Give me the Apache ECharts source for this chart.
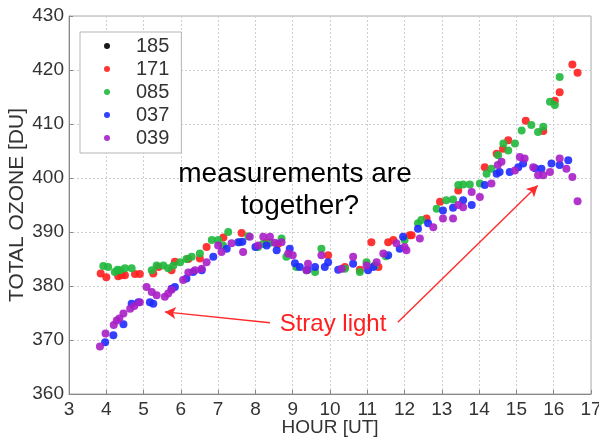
<!DOCTYPE html>
<html>
<head>
<meta charset="utf-8">
<script src="https://cdn.jsdelivr.net/npm/echarts@6/dist/echarts.min.js"></script>
<style>html,body{margin:0;padding:0;background:#fff}#c{width:599px;height:438px}</style>
</head>
<body>
<div id="c"></div>
<script>
const seriesNames = ['185', '171', '085', '037', '039'];
const s185 = [];
const s171 = [[3.85,382.3],[4.0,381.6],[4.32,381.8],[4.41,382.0],[4.5,382.0],[4.77,382.2],[4.9,382.2],[5.26,382.3],[5.4,383.5],[5.75,382.9],[5.84,384.5],[6.2,385],[6.51,385.1],[6.69,387.2],[7.14,389.0],[7.63,389.8],[8.3,388],[8.6,387.8],[9.95,385.7],[10.4,383.5],[10.8,383.0],[11.11,388.1],[11.3,383.5],[11.56,388.1],[11.7,388.5],[12.14,389.4],[12.19,389.4],[12.59,392.5],[12.95,395.6],[13.44,397.7],[14.15,402.0],[14.47,404.5],[14.64,405.4],[14.78,407.0],[15.25,410.6],[15.72,408.7],[16.03,414.3],[16.16,415.9],[16.5,421.0],[16.64,419.5]];
const s085 = [[3.92,383.7],[4.05,383.5],[4.23,382.6],[4.3,383.0],[4.37,382.9],[4.5,383.3],[4.68,383.3],[5.22,382.9],[5.35,383.8],[5.53,383.8],[5.66,383.3],[5.8,383.8],[5.98,384.4],[6.15,385.0],[6.29,385.4],[6.51,386.0],[6.83,388.5],[7.0,388.5],[7.13,387.5],[7.27,390.0],[7.58,388.1],[7.81,389.2],[8.07,387.2],[8.2,387.8],[8.4,388.0],[8.7,388.8],[8.83,385.4],[9.1,383.5],[9.37,382.9],[9.6,382.6],[9.77,386.9],[10.4,383.2],[10.8,382.6],[10.98,384.4],[11.2,383.8],[11.5,385.5],[12.0,388.5],[12.36,391.6],[12.45,392.2],[12.86,394.3],[13.12,395.9],[13.3,396.0],[13.44,398.7],[13.57,398.8],[13.75,398.8],[14.02,399.0],[14.2,400.8],[14.33,401.7],[14.51,404.2],[14.65,406.4],[14.78,405.1],[14.96,406.4],[15.14,408.8],[15.4,409.8],[15.58,408.5],[15.72,409.5],[15.9,414.1],[16.03,413.5],[16.16,418.7]];
const s037 = [[3.97,369.6],[4.19,370.9],[4.46,372.9],[4.68,376.7],[4.86,377.0],[5.17,377.0],[5.26,376.7],[5.75,379.5],[5.84,379.8],[6.15,381.4],[6.33,382.6],[6.56,382.9],[6.87,385.4],[7.23,386.9],[7.54,388.1],[7.65,388.2],[8.0,387.2],[8.3,387.5],[8.57,386.6],[8.92,386.9],[9.06,384.2],[9.19,383.5],[9.4,383.0],[9.6,383.5],[9.86,383.5],[9.95,384.4],[10.22,383.0],[10.62,384.1],[11.02,382.9],[11.16,383.5],[11.56,385.7],[11.87,386.9],[11.96,389.1],[12.36,390.6],[12.63,391.6],[13.03,394.0],[13.3,394.5],[13.57,395.9],[13.8,395.0],[14.15,398.7],[14.47,400.8],[14.55,401.1],[14.82,401.1],[15.05,402.0],[15.18,402.7],[15.5,401.8],[15.67,401.7],[15.94,402.7],[16.16,402.4],[16.39,403.3]];
const s039 = [[3.83,368.8],[3.98,371.2],[4.2,372.8],[4.28,373.6],[4.35,374],[4.46,374.9],[4.64,375.8],[4.75,376.3],[4.9,377.0],[5.08,379.8],[5.22,378.9],[5.35,378.3],[5.57,378.0],[5.66,378.6],[5.75,379.3],[6.06,381.1],[6.2,382.5],[6.38,382.9],[6.56,383.2],[6.69,384.4],[7.0,387.5],[7.09,386.3],[7.36,387.9],[7.67,386.3],[7.85,389.1],[8.07,387.5],[8.21,389.1],[8.39,389.1],[8.52,388.0],[8.7,388.1],[8.88,386.0],[9.0,385.7],[9.37,382.9],[9.41,384.1],[9.77,385.7],[10.31,383.2],[10.62,385.4],[10.98,383.8],[11.25,384.4],[11.43,386.0],[11.78,387.9],[12.0,387.2],[12.05,386.6],[12.41,388.8],[12.77,390.9],[13.03,392.5],[13.3,392.5],[13.44,395.0],[13.57,394.6],[13.8,397.4],[14.02,396.5],[14.33,399.0],[14.5,402.4],[14.6,403.0],[14.96,401.4],[15.09,403.9],[15.22,403.6],[15.45,402.0],[15.58,400.5],[15.72,400.5],[15.9,401.1],[16.16,403.6],[16.34,401.7],[16.5,400.2],[16.64,395.7]];
const xTicks = {min: 3, max: 17, step: 1};
const yTicks = {min: 360, max: 430, step: 10};
const arrowLeft = [[8.39,373.2],[5.57,375.2]];
const arrowRight = [[11.82,373.3],[15.57,398.6]];

const colors = ['#000000', '#ff1f1f', '#1fb83c', '#1f2bff', '#a81fc6'];
const dataList = [s185, s171, s085, s037, s039];
const font = 'Liberation Sans, Arial, sans-serif';

const chart = echarts.init(document.getElementById('c'), null, {renderer: 'canvas'});
const series = seriesNames.map((n, i) => ({
  name: n, type: 'scatter', data: dataList[i], symbol: 'circle', symbolSize: 8,
  itemStyle: {color: colors[i], opacity: 0.9}, z: 3 + i
}));
series.push({
  name: 'annot', type: 'line', data: [], silent: true,
  markLine: {
    silent: true, symbol: ['none', 'arrow'], symbolSize: [9, 11],
    label: {show: false},
    lineStyle: {color: '#ff2a2a', width: 1.4, type: 'solid'},
    data: [
      [{coord: arrowLeft[0]}, {coord: arrowLeft[1]}],
      [{coord: arrowRight[0]}, {coord: arrowRight[1]}]
    ]
  }
});
chart.setOption({
  animation: false,
  backgroundColor: '#fff',
  grid: {left: 69, top: 16, right: 8, bottom: 44, show: true, borderColor: '#aaa', borderWidth: 1,
         containLabel: false, outerBoundsMode: 'none'},
  legend: {
    data: seriesNames, orient: 'vertical', left: 80, top: 32,
    icon: 'circle', itemWidth: 6, itemHeight: 6, itemGap: 3,
    backgroundColor: '#fff', borderColor: '#b5b5b5', borderWidth: 1,
    padding: [4, 12, 5, 24],
    textStyle: {fontFamily: font, fontSize: 20, color: '#333', padding: [0, 0, 0, 21]}
  },
  xAxis: {
    type: 'value', min: xTicks.min, max: xTicks.max, interval: xTicks.step,
    name: 'HOUR [UT]', nameLocation: 'middle', nameGap: 24, nameMoveOverlap: false,
    nameTextStyle: {fontFamily: font, fontSize: 19, color: '#333'},
    axisLine: {show: true, lineStyle: {color: '#888'}},
    axisTick: {show: true, inside: true, length: 4, lineStyle: {color: '#888'}},
    axisLabel: {fontFamily: font, fontSize: 19, color: '#333', margin: 6, showMinLabel: true, showMaxLabel: true},
    splitLine: {show: true, lineStyle: {color: '#cfcfcf', type: [2, 2]}}
  },
  yAxis: {
    type: 'value', min: yTicks.min, max: yTicks.max, interval: yTicks.step,
    name: 'TOTAL OZONE [DU]', nameLocation: 'middle', nameGap: 41, nameRotate: 90, nameMoveOverlap: false,
    nameTextStyle: {fontFamily: font, fontSize: 21, color: '#333'},
    axisLine: {show: true, lineStyle: {color: '#888'}},
    axisTick: {show: true, inside: true, length: 4, lineStyle: {color: '#888'}},
    axisLabel: {fontFamily: font, fontSize: 19, color: '#333', margin: 5},
    splitLine: {show: true, lineStyle: {color: '#cfcfcf', type: [2, 2]}}
  },
  graphic: [
    {type: 'text', x: 295, y: 174, style: {text: 'measurements are', fontFamily: font, fontSize: 28, fill: '#000', align: 'center', verticalAlign: 'middle'}, z: 10},
    {type: 'text', x: 300, y: 206, style: {text: 'together?', fontFamily: font, fontSize: 28, fill: '#000', align: 'center', verticalAlign: 'middle'}, z: 10},
    {type: 'text', x: 333, y: 324, style: {text: 'Stray light', fontFamily: font, fontSize: 24, fill: '#ff1f1f', align: 'center', verticalAlign: 'middle'}, z: 10}
  ],
  series: series
});
</script>
</body>
</html>
